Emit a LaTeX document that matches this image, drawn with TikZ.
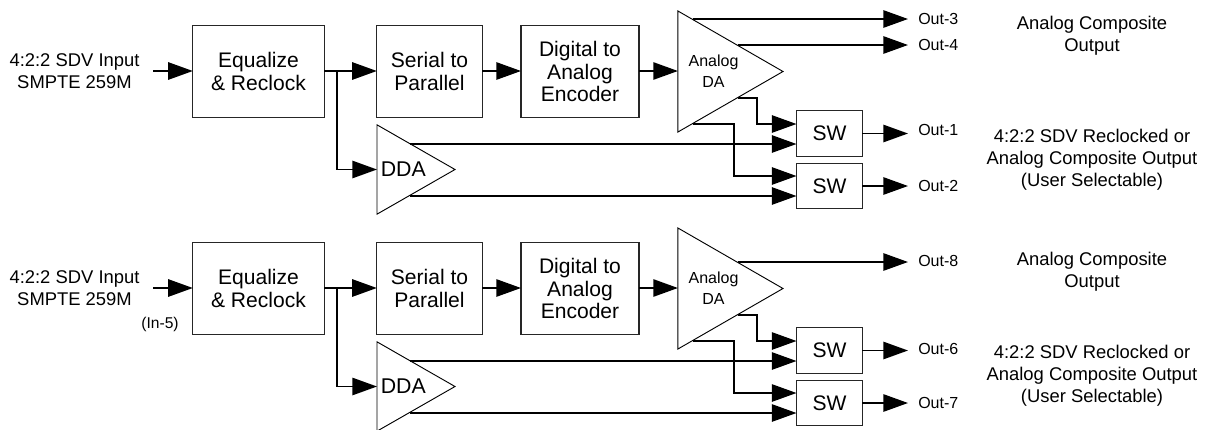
\documentclass[tikz,border=0pt]{standalone}
\usepackage{fontspec}
\setmainfont{Liberation Sans}
\usetikzlibrary{arrows.meta,shapes.geometric,calc}
\tikzset{
  px/.style={x=0.75pt,y=-0.75pt},
  blockbox/.style={draw=black!85,line width=0.8pt,fill=white,inner sep=0pt,outer sep=0pt,align=center,font=\fontsize{15.8}{16.9}\selectfont},
  tribox/.style={draw=black,line width=0.7pt,fill=white,inner sep=0pt,outer sep=0pt,isosceles triangle,isosceles triangle stretches,shape border rotate=0,anchor=apex},
  conn/.style={line width=1.3pt,-{Triangle[length=18.5pt,width=13pt]}},
  lab/.style={inner sep=0pt,align=center,font=\fontsize{13.8}{16.5}\selectfont},
  outlab/.style={inner sep=0pt,anchor=west,font=\fontsize{12}{14}\selectfont},
  note/.style={inner sep=0pt,align=center,font=\fontsize{13.8}{16.5}\selectfont},
}
\newcommand{\chain}[2]{%
  \begin{scope}[yshift=-#2*0.75pt]
  \node[lab] (in#1) at (74.5,71) {4:2:2 SDV Input\\SMPTE 259M};
  \coordinate (src#1) at (153,71);
  \node[blockbox,minimum width=98.5pt,minimum height=68.5pt] (eq#1) at (258.5,71.5) {Equalize\\\& Reclock};
  \node[blockbox,minimum width=79pt,minimum height=68.5pt] (sp#1) at (429.5,71.5) {Serial to\\Parallel};
  \node[blockbox,minimum width=88.5pt,minimum height=68.5pt] (da#1) at (580,71.5) {Digital to\\Analog\\Encoder};
  \node[tribox,minimum height=78.8pt,minimum width=90.75pt] (adt#1) at (783,71.5) {};
  \node[inner sep=0pt,align=center,font=\fontsize{12}{15.8}\selectfont] (adl#1) at (713.5,71.5) {Analog\\DA};
  \node[tribox,minimum height=58.5pt,minimum width=67pt] (ddt#1) at (455,169.5) {};
  \node[inner sep=0pt,anchor=west,font=\fontsize{16}{18}\selectfont] (ddl#1) at (380.5,169) {DDA};
  \node[blockbox,minimum width=49pt,minimum height=34pt] (swa#1) at (829.5,133.5) {SW};
  \node[blockbox,minimum width=49pt,minimum height=34pt] (swb#1) at (829.5,186) {SW};
  \coordinate (br#1) at (337,71);
  \coordinate (a1#1) at (738,98);
  \coordinate (a2#1) at (693,124);
  \coordinate (d1#1) at (410,144);
  \coordinate (d2#1) at (410,196);
  \coordinate (ta1#1) at (796.5,124);
  \coordinate (ta2#1) at (796.5,144);
  \coordinate (tb1#1) at (796.5,176);
  \coordinate (tb2#1) at (796.5,196);
  \coordinate (ea#1) at (908,133.5);
  \coordinate (eb#1) at (908,186);
  \end{scope}
}
\begin{document}
\begin{tikzpicture}[px]
\useasboundingbox (0,0) rectangle (1210,429);
\clip (0,0) rectangle (1210,429);
\fill[white] (0,0) rectangle (1210,429);
% --- upper chain
\chain{T}{0}
\coordinate (o3s) at (693,19);
\coordinate (o3e) at (908,19);
\coordinate (o4s) at (738,45);
\coordinate (o4e) at (908,45);
\node[outlab] (o3) at (918,18.5) {Out-3};
\node[outlab] (o4) at (918,44.5) {Out-4};
\node[outlab] (o1) at (918,130) {Out-1};
\node[outlab] (o2) at (918,186) {Out-2};
\node[note] (n1) at (1092,35.5) {Analog Composite\\Output};
\node[note] (n2) at (1092,160) {4:2:2 SDV Reclocked or\\Analog Composite Output\\(User Selectable)};
% --- lower chain
\chain{B}{217}
\coordinate (o8s) at (738,262);
\coordinate (o8e) at (908,262);
\node[outlab] (o8) at (918,260.5) {Out-8};
\node[outlab] (o6) at (918,349) {Out-6};
\node[outlab] (o7) at (918,402.5) {Out-7};
\node[inner sep=0pt,font=\fontsize{11.7}{14}\selectfont] (in5) at (160,324) {(In-5)};
\node[note] (n3) at (1092,272) {Analog Composite\\Output};
\node[note] (n4) at (1092,376) {4:2:2 SDV Reclocked or\\Analog Composite Output\\(User Selectable)};
% --- connectors
\foreach \s in {T,B}{
  \draw[conn] (src\s) -- (eq\s.west |- src\s);
  \draw[conn] (eq\s.east |- src\s) -- (sp\s.west |- src\s);
  \draw[conn] (br\s) |- (ddt\s.lower side);
  \draw[conn] (sp\s.east |- src\s) -- (da\s.west |- src\s);
  \draw[conn] (da\s.east |- src\s) -- (adt\s.lower side |- src\s);
  \draw[conn] (a1\s) -| ($(a1\s)+(19,0)$) |- (ta1\s);
  \draw[conn] (a2\s) -| ($(a2\s)+(41,0)$) |- (tb1\s);
  \draw[conn] (d1\s) -- (ta2\s);
  \draw[conn] (d2\s) -- (tb2\s);
  \draw[conn] (swa\s.east) -- (ea\s);
  \draw[conn] (swb\s.east) -- (eb\s);
}
\draw[conn] (o3s) -- (o3e);
\draw[conn] (o4s) -- (o4e);
\draw[conn] (o8s) -- (o8e);
\end{tikzpicture}
\end{document}
